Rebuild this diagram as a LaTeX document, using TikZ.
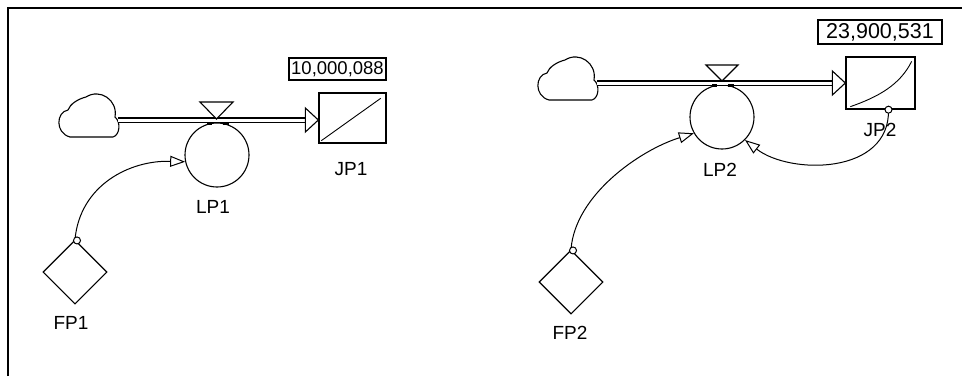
\documentclass[tikz,border=0pt]{standalone}
\usepackage{fontspec}
\setmainfont{Liberation Sans}
\usetikzlibrary{shapes.geometric,arrows.meta,calc}
\begin{document}
\begin{tikzpicture}[x=1pt,y=-1pt,
  stock/.style={draw,line width=1.3pt,inner sep=0,minimum width=67pt,minimum height=50pt},
  valbox/.style={draw,line width=1.3pt,inner sep=0,minimum height=22pt,font=\fontsize{18.5}{18.5}\selectfont},
  conv/.style={draw,circle,line width=1.1pt,inner sep=0,minimum size=64pt},
  aux/.style={draw,diamond,line width=1.1pt,inner sep=0,minimum width=64pt,minimum height=64pt},
  lbl/.style={inner sep=0,font=\fontsize{19}{19}\selectfont},
  pipe/.style={double,double distance=3pt,line width=1.2pt},
  link/.style={line width=1pt,-{Triangle[open,length=15pt,width=11pt,line width=1pt]}},
  tail/.style={draw,circle,line width=1pt,fill=white,inner sep=0,minimum size=7pt},
  head/.style={draw,line width=1.1pt,fill=white,line join=miter}
]
\useasboundingbox (0,0) rectangle (962,376);
% frame
\draw[line width=1.8pt] (8,376) -- (8,8) -- (962,8);

% ---------- left model ----------
\node[stock] (JP1) at (352.5,118) {};
\draw[line width=0.9pt] ($(JP1.south west)+(3,-3)$) -- ($(JP1.north east)+(-6,6)$);
\node[valbox,minimum width=97pt] (V1) at (337.5,69) {10,000,088};
\node[lbl] (JP1l) at (351,169) {JP1};
\node[conv] (LP1) at (217,155) {};
\node[lbl] (LP1l) at (213,207) {LP1};
\node[aux] (FP1) at (75,272) {};
\node[lbl] (FP1l) at (71,323) {FP1};
% cloud 1
\coordinate (C1) at (70,137);
\draw[line width=1.1pt,shift={(C1)}] (0,0) -- (43,0) .. controls (50,-2) and (51,-15) .. (45,-20)
  .. controls (48,-37) and (30,-49) .. (16,-40) .. controls (8,-38) and (0,-33) .. (-2,-27)
  .. controls (-14,-25) and (-15,-4) .. (0,0);
\coordinate (C1r) at (118,120);
\coordinate (P1e) at (306,120);
\draw[pipe] (C1r) -- (P1e);
\draw[head] ($(JP1.west |- P1e)+(-13,-12)$) -- (JP1.west |- P1e) -- ($(JP1.west |- P1e)+(-13,12)$) -- cycle;
% valve
\draw[head] (200,102) -- (233,102) -- (216.5,119) -- cycle;
\fill (207,122) rectangle (212,125);
\fill (223,122) rectangle (229,125);
% connector FP1 -> LP1
\draw[link] (FP1.north) .. controls (80,185) and (130,160) .. (LP1.192);
\node[tail] at ($(FP1.north)+(2,1)$) {};

% ---------- right model ----------
\node[stock,minimum width=69pt,minimum height=52pt] (JP2) at (880.5,83) {};
\draw[line width=0.9pt] ($(JP2.south west)+(5,-3)$) .. controls (878,97) and (900,85) .. ($(JP2.north east)+(-4,5)$);
\node[valbox,minimum width=124pt,minimum height=24pt,font=\fontsize{21.5}{21.5}\selectfont] (V2) at (880,32) {23,900,531};
\node[lbl] (JP2l) at (880,130) {JP2};
\node[conv] (LP2) at (722,117) {};
\node[lbl] (LP2l) at (720,170) {LP2};
\node[aux] (FP2) at (571,282) {};
\node[lbl] (FP2l) at (570,333) {FP2};
% cloud 2
\coordinate (C2) at (549,100);
\draw[line width=1.1pt,shift={(C2)}] (0,0) -- (43,0) .. controls (50,-2) and (51,-15) .. (45,-20)
  .. controls (48,-37) and (30,-49) .. (16,-40) .. controls (8,-38) and (0,-33) .. (-2,-27)
  .. controls (-14,-25) and (-15,-4) .. (0,0);
\coordinate (C2r) at (597,83);
\coordinate (P2e) at (834,83);
\draw[pipe] (C2r) -- (P2e);
\draw[head] ($(JP2.west |- P2e)+(-13,-12)$) -- (JP2.west |- P2e) -- ($(JP2.west |- P2e)+(-13,12)$) -- cycle;
% valve
\draw[head] (706,65) -- (738,65) -- (722,81) -- cycle;
\fill (712,84) rectangle (717,87);
\fill (728,84) rectangle (734,87);
% connectors
\draw[link] (FP2.north) .. controls (575,195) and (640,150) .. (LP2.210);
\node[tail] at ($(FP2.north)+(2,1)$) {};
\coordinate (J2b) at ($(JP2.south)+(8,0)$);
\draw[link] (J2b) .. controls (890,175) and (790,175) .. (LP2.-45);
\node[tail] at (J2b) {};
\end{tikzpicture}
\end{document}
